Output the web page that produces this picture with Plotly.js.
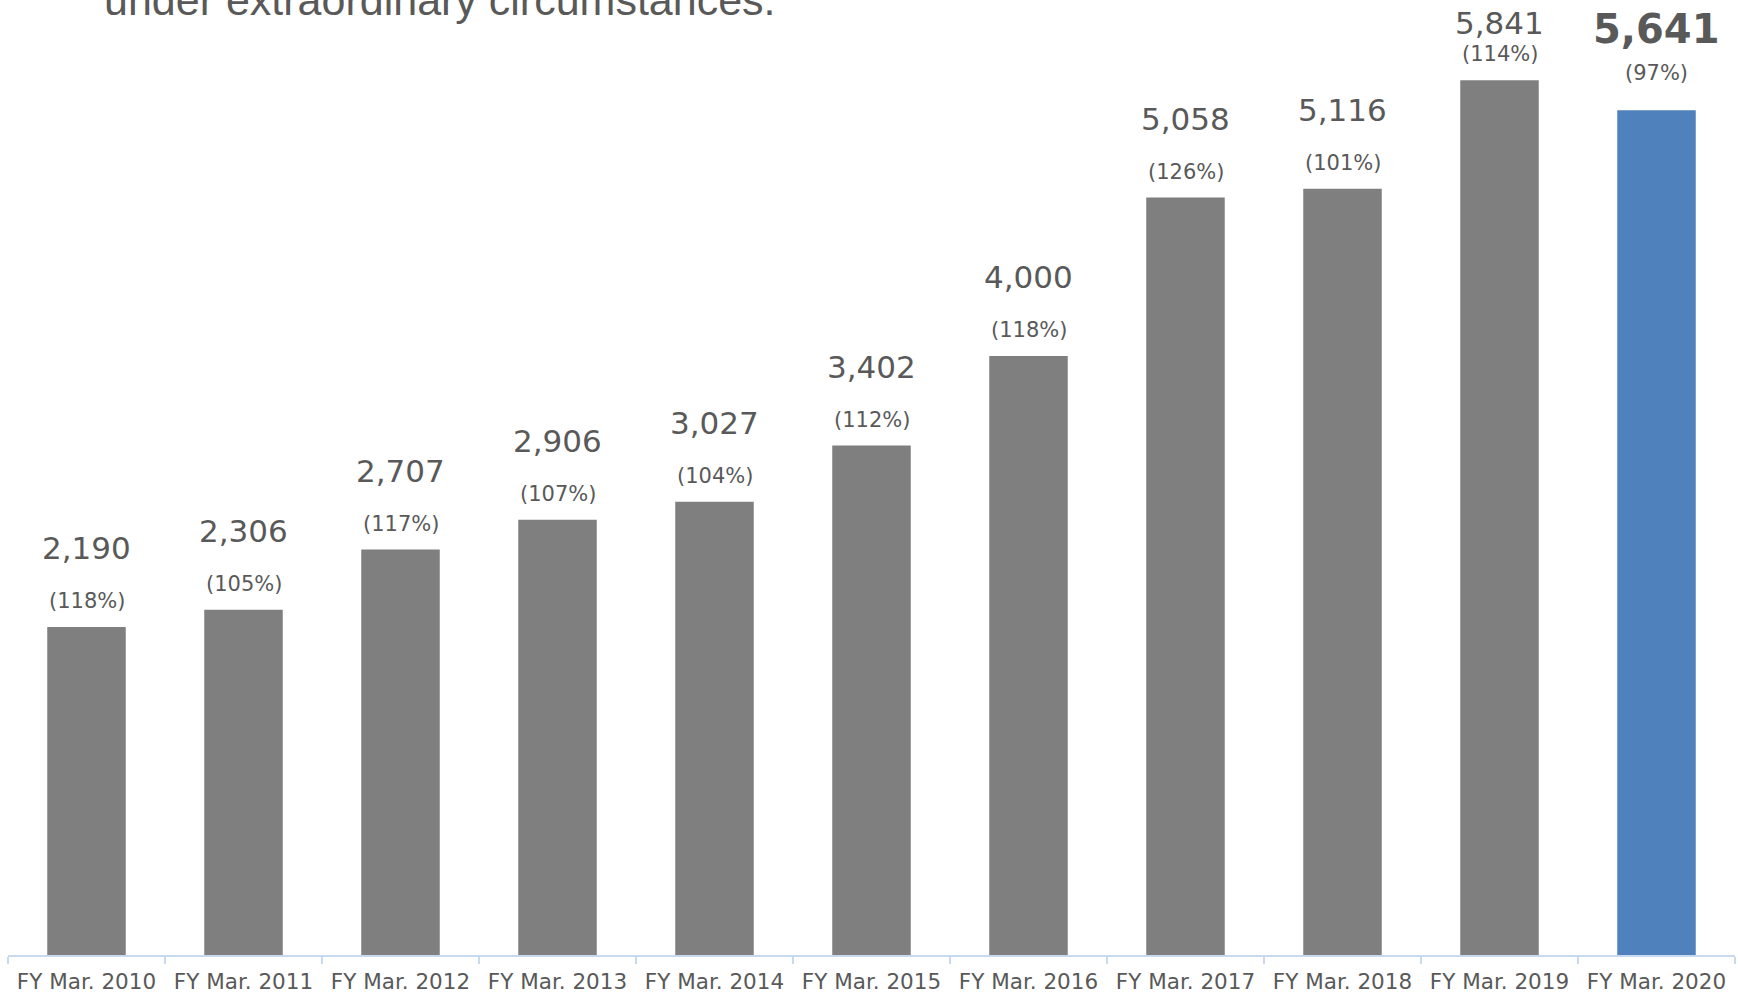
<!DOCTYPE html>
<html>
<head>
<meta charset="utf-8">
<script src="https://cdn.plot.ly/plotly-3.0.1.min.js"></script>
<style>
  html, body { margin: 0; padding: 0; background: #ffffff; }
  #chart { width: 1738px; height: 996px; }
</style>
</head>
<body>
<div id="chart"></div>
<script>
const categories = ['FY Mar. 2010', 'FY Mar. 2011', 'FY Mar. 2012', 'FY Mar. 2013', 'FY Mar. 2014', 'FY Mar. 2015', 'FY Mar. 2016', 'FY Mar. 2017', 'FY Mar. 2018', 'FY Mar. 2019', 'FY Mar. 2020'];
const values = [2190, 2306, 2707, 2906, 3027, 3402, 4000, 5058, 5116, 5841, 5641];
const valueLabels = ['2,190', '2,306', '2,707', '2,906', '3,027', '3,402', '4,000', '5,058', '5,116', '5,841', '5,641'];
const growthLabels = ['(118%)', '(105%)', '(117%)', '(107%)', '(104%)', '(112%)', '(118%)', '(126%)', '(101%)', '(114%)', '(97%)'];
const titleText = 'under extraordinary circumstances.';

const W = 1738, H = 996;
const margin = {l: 8, r: 3, t: 0, b: 41};
const yMax = 6377;
const plotH = H - margin.t - margin.b;
const pxPerUnit = plotH / yMax;
const lastIdx = values.length - 1;

const barColors = values.map((v, i) => i === lastIdx ? '#4f81bd' : '#7f7f7f');

const trace = {
  type: 'bar',
  x: categories,
  y: values,
  marker: {color: barColors, line: {width: 0}},
  hoverinfo: 'skip'
};

const annotations = [];
values.forEach((v, i) => {
  const isLast = i === lastIdx;
  const topPx = margin.t + plotH - v * pxPerUnit;
  const pctShift = isLast ? 37 : 26;
  let valShift = isLast ? 81 : 79;
  valShift = Math.min(valShift, topPx - 23);
  annotations.push({
    x: categories[i], y: v, xref: 'x', yref: 'y',
    text: growthLabels[i], showarrow: false,
    yanchor: 'middle', xanchor: 'center', yshift: pctShift,
    font: {family: 'DejaVu Sans, Verdana, sans-serif', size: 21, color: '#595959'}
  });
  annotations.push({
    x: categories[i], y: v, xref: 'x', yref: 'y',
    text: isLast ? '<b>' + valueLabels[i] + '</b>' : valueLabels[i], showarrow: false,
    yanchor: 'middle', xanchor: 'center', yshift: valShift,
    font: {family: 'DejaVu Sans, Verdana, sans-serif', size: isLast ? 40 : 31, color: '#595959'}
  });
});

annotations.push({
  xref: 'paper', yref: 'paper',
  x: (102 - margin.l) / (W - margin.l - margin.r), y: 1,
  xanchor: 'left', yanchor: 'middle',
  text: titleText, showarrow: false,
  font: {family: 'Liberation Sans, Arial, sans-serif', size: 43, color: '#595959'}
});

const layout = {
  width: W, height: H,
  margin: margin,
  paper_bgcolor: '#ffffff',
  plot_bgcolor: '#ffffff',
  showlegend: false,
  bargap: 0.5,
  xaxis: {
    type: 'category',
    tickson: 'boundaries',
    ticks: 'outside',
    ticklen: 7,
    tickwidth: 2,
    tickcolor: '#c8d8ee',
    showline: true,
    linecolor: '#c8d8ee',
    linewidth: 2,
    showgrid: false,
    zeroline: false,
    ticklabelstandoff: 6,
    tickfont: {family: 'DejaVu Sans, Verdana, sans-serif', size: 21.5, color: '#595959'},
    fixedrange: true
  },
  yaxis: {
    range: [0, yMax],
    visible: false,
    showgrid: false,
    zeroline: false,
    fixedrange: true
  },
  annotations: annotations
};

Plotly.newPlot('chart', [trace], layout, {displayModeBar: false, staticPlot: true});
</script>
</body>
</html>
